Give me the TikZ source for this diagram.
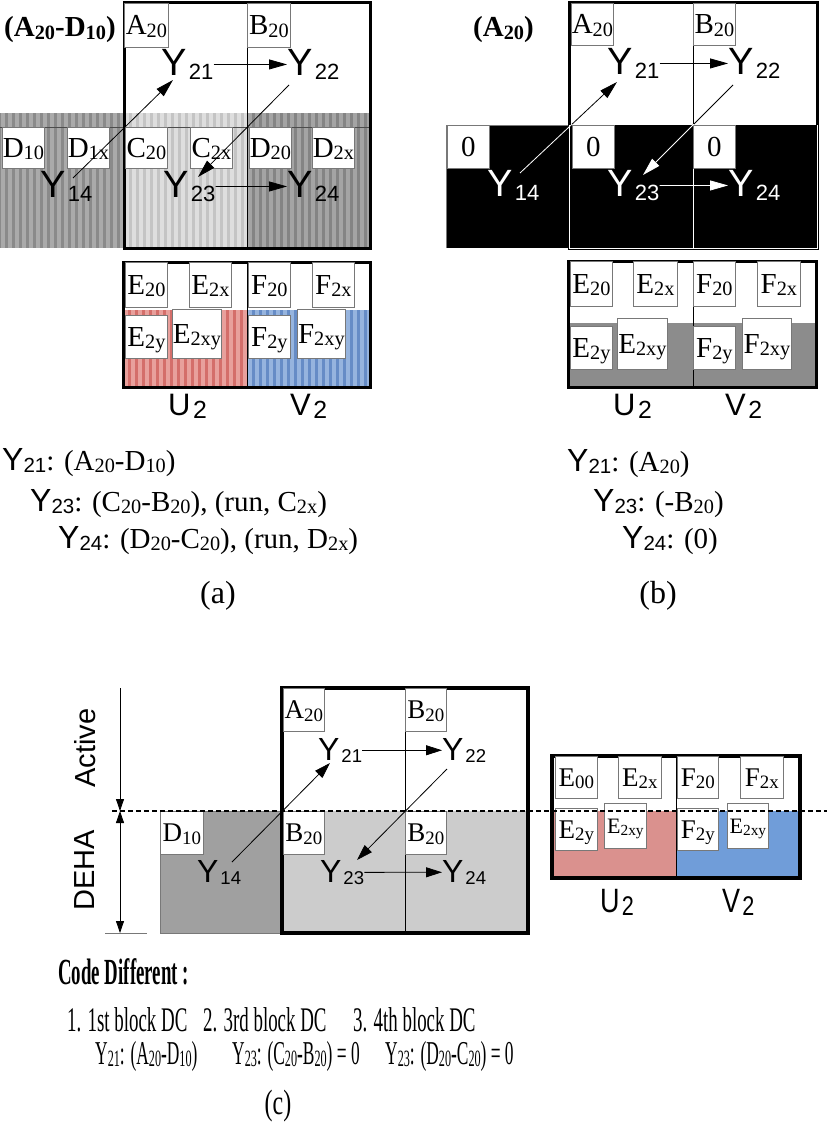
\documentclass[tikz,border=0pt]{standalone}
\usepackage{graphicx}
\usepackage{fontspec}
\setmainfont{Liberation Serif}
\newfontfamily\ar{Liberation Sans}
\usetikzlibrary{arrows.meta}
\definecolor{lgray}{RGB}{120,120,120}
\definecolor{gLd}{RGB}{138,138,138}\definecolor{gLl}{RGB}{170,170,170}
\definecolor{gMd}{RGB}{196,196,196}\definecolor{gMl}{RGB}{222,222,222}
\definecolor{gRd}{RGB}{132,132,132}\definecolor{gRl}{RGB}{164,164,164}
\definecolor{rd}{RGB}{212,110,106}\definecolor{rl}{RGB}{232,160,156}
\definecolor{bd}{RGB}{102,140,198}\definecolor{bl}{RGB}{150,180,222}
\definecolor{gb}{RGB}{140,140,140}
\definecolor{cdark}{RGB}{160,160,160}
\definecolor{clight}{RGB}{204,204,204}
\definecolor{cred}{RGB}{218,145,142}
\definecolor{cblue}{RGB}{112,157,217}
\newcommand\Ys[1]{Y\kern0.06em\raisebox{-0.08em}{\scalebox{0.58}{#1}}}
\newcommand\Yt[1]{Y\raisebox{-0.07em}{\scalebox{0.64}{#1}}}
\newcommand\Us[2]{#1\kern0.08em\raisebox{-0.1em}{\scalebox{0.8}{#2}}}
\newcommand\sbx[1]{\raisebox{-0.08em}{\scalebox{0.7}{#1}}}
\newcommand\stripes[6]{%
  \fill[#5] (#1,#2) rectangle (#3,#4);
  \begin{scope}
    \clip (#1,#2) rectangle (#3,#4);
    \foreach \i in {0,...,18} \fill[#6] ({#1+7*\i+1},#2) rectangle ++(3.5,{#4-#2});
  \end{scope}}
\tikzset{
  lb/.style={draw=lgray, fill=white, line width=0.8pt, inner sep=0pt, anchor=north west,
    minimum width=42pt, minimum height=42pt, font=\fontsize{29}{29}\selectfont,
    text height=19pt, text depth=0pt},
  lbc/.style={lb, minimum width=41pt, minimum height=43pt, font=\fontsize{27}{27}\selectfont, text height=18pt},
  lbs/.style={lb, font=\fontsize{22}{22}\selectfont, text height=15pt},
  yb/.style={inner sep=0pt, anchor=base west, font=\ar\fontsize{38}{38}\selectfont},
  yc/.style={yb, font=\ar\fontsize{32}{32}\selectfont},
  ulab/.style={inner sep=0pt, anchor=base west, font=\ar\fontsize{31}{31}\selectfont},
  arr/.style={line width=0.8pt, -{Triangle[length=18pt,width=10pt]}},
  arrc/.style={line width=0.8pt, -{Triangle[length=16pt,width=10pt]}},
  thickbox/.style={line width=3pt},
  divline/.style={line width=1pt},
  txt/.style={inner sep=0pt, anchor=base west, font=\fontsize{29}{29}\selectfont},
  ttl/.style={inner sep=0pt, anchor=base west, font=\bfseries\fontsize{29}{29}\selectfont},
  captxt/.style={inner sep=0pt, font=\fontsize{32}{32}\selectfont},
  ctx/.style={inner sep=0pt, anchor=base west, font=\fontsize{30}{30}\selectfont},
  dimarr/.style={line width=0.8pt, -{Triangle[length=12pt,width=8pt]}},
  dimboth/.style={line width=0.8pt, {Triangle[length=12pt,width=8pt]}-{Triangle[length=12pt,width=8pt]}}
}
\begin{document}
\begin{tikzpicture}[x=1pt,y=-1pt]
\useasboundingbox (0,0) rectangle (827,1123);

%%%%%%%%%%%%%%%% (a) %%%%%%%%%%%%%%%%
\stripes{0}{113}{124}{248}{gLd}{gLl}
\stripes{124}{113}{247}{248}{gMd}{gMl}
\stripes{247}{113}{370}{248}{gRd}{gRl}
\draw[line width=0.8pt, black!70] (0,127) -- (370,127);
\draw[thickbox] (124,3) rectangle (370,248);
\draw[divline] (247,3) -- (247,248);
\node[ttl] (ta) at (4,37) {(A\sbx{20}-D\sbx{10})};
\node[lb, minimum width=44pt, minimum height=44pt] (aA) at (124,3) {A\sbx{20}};
\node[lb, minimum width=43pt, minimum height=44pt] (aB) at (247,3) {B\sbx{20}};
\node[lb, minimum height=41pt] (aD10) at (2,127) {D\sbx{10}};
\node[lb, minimum height=41pt] (aD1x) at (67,127) {D\sbx{1x}};
\node[lb, minimum height=41pt] (aC20) at (125,127) {C\sbx{20}};
\node[lb, minimum height=41pt] (aC2x) at (190,127) {C\sbx{2x}};
\node[lb, minimum height=41pt] (aD20) at (249,127) {D\sbx{20}};
\node[lb, minimum height=41pt] (aD2x) at (312,127) {D\sbx{2x}};
\node[yb] (a21) at (161,76) {\Ys{21}};
\node[yb] (a22) at (287,76) {\Ys{22}};
\node[yb] (a14) at (40,198) {\Ys{14}};
\node[yb] (a23) at (163,198) {\Ys{23}};
\node[yb] (a24) at (287,198) {\Ys{24}};
\draw[arr] (a21.east) -- (a22.west);
\draw[arr] ([shift={(33,-20)}]a14.base west) -- ([shift={(12,4)}]a21.base west);
\draw[arr] ([shift={(2,9)}]a22.base west) -- ([shift={(35,-21)}]a23.base west);
\draw[arr] (a23.east) -- (a24.west);
% U2 V2 (a)
\stripes{123}{310}{247}{387}{rd}{rl}
\stripes{247}{310}{370}{387}{bd}{bl}
\draw[thickbox] (123,262) rectangle (370,387);
\draw[divline] (247,262) -- (247,387);
\node[lb, minimum height=45pt] (aE20) at (125,262) {E\sbx{20}};
\node[lb, minimum height=45pt] (aE2x) at (189,262) {E\sbx{2x}};
\node[lb, minimum height=45pt] (aF20) at (248,262) {F\sbx{20}};
\node[lb, minimum height=45pt] (aF2x) at (312,262) {F\sbx{2x}};
\node[lb, minimum height=43pt] (aE2y) at (125,315) {E\sbx{2y}};
\node[lb, minimum width=49pt, minimum height=49pt] (aE2xy) at (172,309) {E\sbx{2xy}};
\node[lb, minimum height=43pt] (aF2y) at (248,315) {F\sbx{2y}};
\node[lb, minimum width=48pt, minimum height=49pt] (aF2xy) at (297,309) {F\sbx{2xy}};
\node[ulab] (aU) at (168,415) {\Us{U}{2}};
\node[ulab] (aV) at (290,415) {\Us{V}{2}};
\node[txt] (aL1) at (2,470) {{\ar\fontsize{32}{32}\selectfont\Yt{21}}: (A\sbx{20}-D\sbx{10})};
\node[txt] (aL2) at (30,511) {{\ar\fontsize{32}{32}\selectfont\Yt{23}}: (C\sbx{20}-B\sbx{20}), (run, C\sbx{2x})};
\node[txt] (aL3) at (58,548) {{\ar\fontsize{32}{32}\selectfont\Yt{24}}: (D\sbx{20}-C\sbx{20}), (run, D\sbx{2x})};
\node[captxt] (capa) at (218,596) {(a)};

%%%%%%%%%%%%%%%% (b) %%%%%%%%%%%%%%%%
\draw[thickbox] (569,3) rectangle (817,248);
\draw[divline] (693,3) -- (693,125);
\fill[black] (446,125) rectangle (568,248);
\draw[line width=0.8pt, lgray] (446,248) -- (446,125) -- (568,125);
\filldraw[fill=black, draw=white, line width=1pt] (569.5,125) rectangle (693,248);
\filldraw[fill=black, draw=white, line width=1pt] (693,125) rectangle (817,248);
\draw[thickbox] (569,125) -- (569,3) -- (817,3) -- (817,125);
\node[ttl] (tb) at (473,37) {(A\sbx{20})};
\node[lb] (bA) at (571,3) {A\sbx{20}};
\node[lb] (bB) at (693,3) {B\sbx{20}};
\node[lb, minimum height=43pt] (b0a) at (447,125) {0};
\node[lb, minimum height=43pt] (b0b) at (572,125) {0};
\node[lb, minimum height=43pt] (b0c) at (693,125) {0};
\node[yb] (b21) at (607,75) {\Ys{21}};
\node[yb] (b22) at (728,75) {\Ys{22}};
\node[yb, text=white] (b14) at (487,197) {\Ys{14}};
\node[yb, text=white] (b23) at (607,197) {\Ys{23}};
\node[yb, text=white] (b24) at (728,197) {\Ys{24}};
\draw[arr] (b21.east) -- (b22.west);
\begin{scope}
  \clip (560,0) rectangle (820,125);
  \draw[arr] ([shift={(33,-24)}]b14.base west) -- ([shift={(10,7)}]b21.base west);
  \draw[arr] ([shift={(5,10)}]b22.base west) -- ([shift={(36,-22)}]b23.base west);
\end{scope}
\begin{scope}
  \clip (440,125) rectangle (820,250);
  \draw[arr, white] ([shift={(33,-24)}]b14.base west) -- ([shift={(10,7)}]b21.base west);
  \draw[arr, white] ([shift={(5,10)}]b22.base west) -- ([shift={(36,-22)}]b23.base west);
\end{scope}
\draw[arr, white] (b23.east) -- (b24.west);
% U2 V2 (b)
\fill[gb] (568,323) rectangle (816,387);
\draw[thickbox] (568,261) rectangle (816,387);
\draw[divline] (693,261) -- (693,387);
\node[lb, minimum height=45pt] (bE20) at (570,261) {E\sbx{20}};
\node[lb, minimum height=45pt, minimum width=44pt] (bE2x) at (633,261) {E\sbx{2x}};
\node[lb, minimum height=45pt] (bF20) at (693,261) {F\sbx{20}};
\node[lb, minimum height=45pt, minimum width=43pt] (bF2x) at (757,261) {F\sbx{2x}};
\node[lb, minimum height=43pt] (bE2y) at (570,326) {E\sbx{2y}};
\node[lb, minimum width=50pt, minimum height=51pt] (bE2xy) at (617,318) {E\sbx{2xy}};
\node[lb, minimum height=43pt] (bF2y) at (693,326) {F\sbx{2y}};
\node[lb, minimum width=49pt, minimum height=51pt] (bF2xy) at (742,318) {F\sbx{2xy}};
\node[ulab] (bU) at (613,415) {\Us{U}{2}};
\node[ulab] (bV) at (725,415) {\Us{V}{2}};
\node[txt] (bL1) at (567,471) {{\ar\fontsize{32}{32}\selectfont\Yt{21}}: (A\sbx{20})};
\node[txt] (bL2) at (593,511) {{\ar\fontsize{32}{32}\selectfont\Yt{23}}: (-B\sbx{20})};
\node[txt] (bL3) at (622,548) {{\ar\fontsize{32}{32}\selectfont\Yt{24}}: (0)};
\node[captxt] (capb) at (658,596) {(b)};

%%%%%%%%%%%%%%%% (c) %%%%%%%%%%%%%%%%
\coordinate (dt) at (120,688);
\coordinate (dm) at (120,811);
\coordinate (db) at (120,933);
\coordinate (tk1) at (105,933);
\coordinate (tk2) at (147,933);
\draw[dimarr] (dt) -- (dm);
\draw[dimboth] (dm) -- (db);
\draw[line width=0.8pt, lgray] (tk1) -- (tk2);
\node[rotate=90, inner sep=0pt, font=\ar\fontsize{29}{29}\selectfont] (act) at (85,748) {Active};
\node[rotate=90, inner sep=0pt, font=\ar\fontsize{29}{29}\selectfont] (deha) at (85,870) {DEHA};
\filldraw[fill=cdark, draw=lgray, line width=0.8pt] (160,811) rectangle (282,933);
\fill[clight] (282,811) rectangle (528,933);
\draw[line width=3.5pt] (282,688) rectangle (528,933);
\draw[divline] (405,688) -- (405,933);
\node[lbc] (cA) at (283,688) {A\sbx{20}};
\node[lbc] (cB) at (405,688) {B\sbx{20}};
\node[lbc, minimum width=43pt] (cD10) at (160,811) {D\sbx{10}};
\node[lbc] (cB2) at (283,811) {B\sbx{20}};
\node[lbc] (cB3) at (405,811) {B\sbx{20}};
\node[yc] (c21) at (318,760) {\Ys{21}};
\node[yc] (c22) at (442,760) {\Ys{22}};
\node[yc] (c14) at (197,882) {\Ys{14}};
\node[yc] (c23) at (320,882) {\Ys{23}};
\node[yc] (c24) at (442,882) {\Ys{24}};
\draw[arrc] (c21.east) -- (c22.west);
\draw[arrc] ([shift={(35,-20)}]c14.base west) -- ([shift={(12,3)}]c21.base west);
\draw[arrc] ([shift={(5,9)}]c22.base west) -- ([shift={(37,-22)}]c23.base west);
\draw[arrc] (c23.east) -- (c24.west);
% U2 V2 (c)
\fill[cred] (552,811) rectangle (676,878);
\fill[cblue] (676,811) rectangle (800,878);
\draw[line width=3.5pt] (552,756) rectangle (800,878);
\draw[divline] (676,756) -- (676,878);
\node[lbc, minimum width=42pt, minimum height=42pt] (cE00) at (555,756) {E\sbx{00}};
\node[lbc, minimum width=43pt, minimum height=42pt] (cE2x) at (618,756) {E\sbx{2x}};
\node[lbc, minimum width=41pt, minimum height=42pt] (cF20) at (677,756) {F\sbx{20}};
\node[lbc, minimum width=43pt, minimum height=42pt] (cF2x) at (740,756) {F\sbx{2x}};
\node[lbc, minimum width=42pt, minimum height=42pt] (cE2y) at (555,808) {E\sbx{2y}};
\node[lbs, minimum width=42pt, minimum height=45pt] (cE2xy) at (604,803) {E\sbx{2xy}};
\node[lbc, minimum width=41pt, minimum height=42pt] (cF2y) at (677,808) {F\sbx{2y}};
\node[lbs, minimum width=41pt, minimum height=45pt] (cF2xy) at (727,803) {E\sbx{2xy}};
\coordinate (dl) at (112,811);
\coordinate (dr) at (827,811);
\draw[line width=2pt, dash pattern=on 5pt off 3pt] (dl) -- (dr);
\node[ulab, font=\ar\fontsize{27}{27}\selectfont] (cU) at (600,912) {\scalebox{1}[1.25]{\Us{U}{2}}};
\node[ulab, font=\ar\fontsize{27}{27}\selectfont] (cV) at (722,912) {\scalebox{1}[1.25]{\Us{V}{2}}};
% texts (c)
\node[inner sep=0pt, anchor=base west] (code) at (58,984) {\scalebox{0.59}[1.15]{\fontsize{32}{32}\selectfont\bfseries Code Different :}};
\node[ctx] (i1) at (67,1031) {\scalebox{0.63}[1.15]{1. 1st block DC}};
\node[ctx] (i2) at (203,1031) {\scalebox{0.63}[1.15]{2. 3rd block DC}};
\node[ctx] (i3) at (353,1031) {\scalebox{0.63}[1.15]{3. 4th block DC}};
\node[ctx, font=\fontsize{29}{29}\selectfont] (j1) at (95,1064) {\scalebox{0.6}[1.15]{Y\sbx{21}: (A\sbx{20}-D\sbx{10})}};
\node[ctx, font=\fontsize{29}{29}\selectfont] (j2) at (232,1064) {\scalebox{0.6}[1.15]{Y\sbx{23}: (C\sbx{20}-B\sbx{20}) = 0}};
\node[ctx, font=\fontsize{29}{29}\selectfont] (j3) at (385,1064) {\scalebox{0.6}[1.15]{Y\sbx{23}: (D\sbx{20}-C\sbx{20}) = 0}};
\node[captxt] (capc) at (278,1106) {\scalebox{0.75}[1.1]{(c)}};
\end{tikzpicture}
\end{document}
